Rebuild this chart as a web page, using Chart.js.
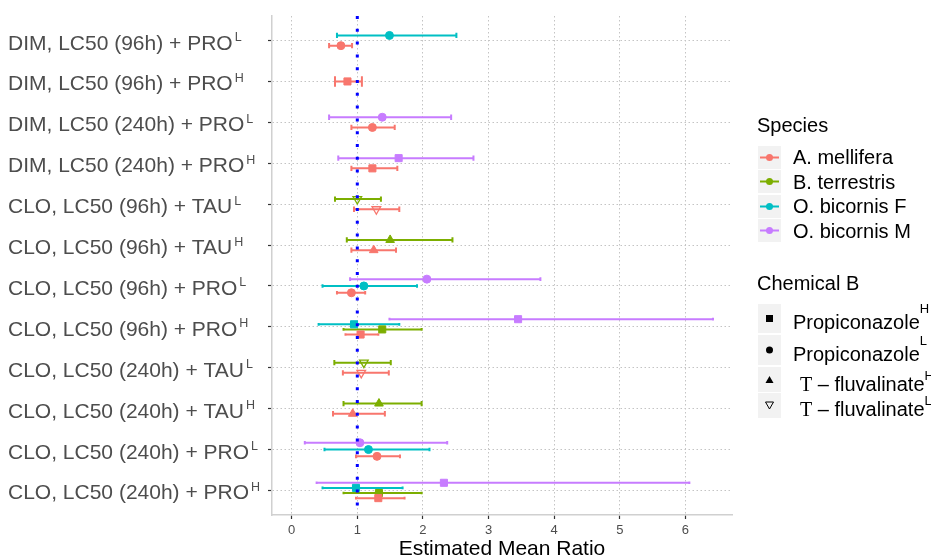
<!DOCTYPE html>
<html lang="en">
<head>
<meta charset="UTF-8">
<title>Estimated Mean Ratio</title>
<script src="https://cdn.jsdelivr.net/npm/chart.js"></script>
<style>
  body { margin: 0; background: #fff; font-family: "Liberation Sans", Arial, sans-serif; }
  #wrap { position: relative; width: 931px; height: 560px; overflow: hidden; }
  #legend div { position: absolute; white-space: nowrap; color: #000; font-size: 20px; line-height: 20px; }
  #legend svg { position: absolute; }
  .serif { font-family: "Liberation Serif", "Times New Roman", serif; }
  .sup { font-size: 13px; position: relative; }
</style>
</head>
<body>
<div id="wrap">
  <canvas id="chart" width="931" height="560"></canvas>
  <div id="legend"></div>
</div>
<script>
// rows, top to bottom
const categoryLabels = [
  'DIM, LC50 (96h) + PRO', 'DIM, LC50 (96h) + PRO',
  'DIM, LC50 (240h) + PRO', 'DIM, LC50 (240h) + PRO',
  'CLO, LC50 (96h) + TAU', 'CLO, LC50 (96h) + TAU',
  'CLO, LC50 (96h) + PRO', 'CLO, LC50 (96h) + PRO',
  'CLO, LC50 (240h) + TAU', 'CLO, LC50 (240h) + TAU',
  'CLO, LC50 (240h) + PRO', 'CLO, LC50 (240h) + PRO'
];
const categorySup = ['L', 'H', 'L', 'H', 'L', 'H', 'L', 'H', 'L', 'H', 'L', 'H'];
const rowChemical = ['PRO_L', 'PRO_H', 'PRO_L', 'PRO_H', 'TAU_L', 'TAU_H',
                     'PRO_L', 'PRO_H', 'TAU_L', 'TAU_H', 'PRO_L', 'PRO_H'];

const speciesNames = ['A. mellifera', 'B. terrestris', 'O. bicornis F', 'O. bicornis M'];
const chemicalKeys = ['PRO_H', 'PRO_L', 'TAU_H', 'TAU_L'];
const chemicalLabels = ['Propiconazole', 'Propiconazole', 'T \u2013 fluvalinate', 'T \u2013 fluvalinate'];
const chemicalSup = ['H', 'L', 'H', 'L'];
const xTicks = [0, 1, 2, 3, 4, 5, 6];
const refRatio = 1;

// estimate / lower / upper per row (null = not tested)
const melliferaEst  = [0.75, 0.85, 1.23, 1.23, 1.29, 1.25, 0.91, 1.05, 1.06, 0.93, 1.30, 1.32];
const melliferaLow  = [0.57, 0.66, 0.91, 0.91, 0.95, 0.91, 0.69, 0.82, 0.78, 0.63, 0.98, 0.98];
const melliferaHigh = [0.92, 1.07, 1.57, 1.61, 1.64, 1.59, 1.12, 1.32, 1.48, 1.42, 1.65, 1.72];

const terrestrisEst  = [null, null, null, null, 1.00, 1.50, null, 1.38, 1.10, 1.33, null, 1.33];
const terrestrisLow  = [null, null, null, null, 0.66, 0.84, null, 0.79, 0.65, 0.79, null, 0.79];
const terrestrisHigh = [null, null, null, null, 1.36, 2.45, null, 1.98, 1.51, 1.98, null, 1.98];

const bicornisFEst  = [1.49, null, null, null, null, null, 1.10, 0.95, null, null, 1.17, 0.98];
const bicornisFLow  = [0.69, null, null, null, null, null, 0.47, 0.41, null, null, 0.50, 0.47];
const bicornisFHigh = [2.51, null, null, null, null, null, 1.91, 1.64, null, null, 2.10, 1.69];

const bicornisMEst  = [null, null, 1.38, 1.63, null, null, 2.06, 3.45, null, null, 1.04, 2.32];
const bicornisMLow  = [null, null, 0.57, 0.71, null, null, 0.89, 1.49, null, null, 0.20, 0.38];
const bicornisMHigh = [null, null, 2.43, 2.77, null, null, 3.79, 6.42, null, null, 2.37, 6.06];

const speciesSeries = [
  [melliferaEst, melliferaLow, melliferaHigh],
  [terrestrisEst, terrestrisLow, terrestrisHigh],
  [bicornisFEst, bicornisFLow, bicornisFHigh],
  [bicornisMEst, bicornisMLow, bicornisMHigh]
];

const speciesColors = ['#F8766D', '#7CAE00', '#00BFC4', '#C77CFF'];
const chemicalStyle = {
  PRO_H: { shape: 'rect', radius: 5, rotation: 0, open: false },
  PRO_L: { shape: 'circle', radius: 4, rotation: 0, open: false },
  TAU_H: { shape: 'triangle', radius: 5, rotation: 0, open: false },
  TAU_L: { shape: 'triangle', radius: 5, rotation: 180, open: true }
};

const dodgeWidth = 0.5;
const errWidth = 0.26;
const yMin = -0.6, yMax = categoryLabels.length - 0.4;

// dodge species inside each row: O. bicornis M on top, A. mellifera at the bottom
function buildPoints(s) {
  const [est, low, high] = speciesSeries[s];
  const pts = [];
  est.forEach((v, i) => {
    if (v === null) return;
    const present = speciesSeries.map((ser, k) => ser[0][i] !== null ? k : -1).filter(k => k >= 0).reverse();
    const n = present.length;
    const j = present.indexOf(s);
    pts.push({ x: v, y: i + (j - (n - 1) / 2) * dodgeWidth / n, lo: low[i], hi: high[i], n: n, row: i });
  });
  return pts;
}

const styleOf = ctx => chemicalStyle[ctx.raw ? rowChemical[ctx.raw.row] : 'PRO_L'];

const datasets = speciesNames.map((name, s) => ({
  label: name,
  data: buildPoints(s),
  showLine: false,
  order: 1,
  pointStyle: ctx => styleOf(ctx).shape,
  pointRadius: ctx => styleOf(ctx).radius,
  pointRotation: ctx => styleOf(ctx).rotation,
  pointBorderWidth: ctx => styleOf(ctx).open ? 1.3 : 1,
  pointBorderColor: speciesColors[s],
  pointBackgroundColor: ctx => styleOf(ctx).open ? 'rgba(255,255,255,0)' : speciesColors[s],
  errColor: speciesColors[s]
}));

datasets.push({
  type: 'line',
  label: 'ref',
  data: [{ x: refRatio, y: yMin }, { x: refRatio, y: yMax }],
  borderColor: '#0000FF',
  borderWidth: 3,
  borderDash: [3, 9.8],
  borderCapStyle: 'butt',
  pointRadius: 0,
  clip: 4,
  order: 0
});

const errorBars = {
  id: 'errorBars',
  beforeDatasetsDraw(chart) {
    const { ctx, scales: { x, y } } = chart;
    ctx.save();
    ctx.lineWidth = 2;
    chart.data.datasets.forEach(ds => {
      if (!ds.errColor) return;
      ctx.strokeStyle = ds.errColor;
      ds.data.forEach(p => {
        const py = y.getPixelForValue(p.y);
        const x0 = x.getPixelForValue(p.lo);
        const x1 = x.getPixelForValue(p.hi);
        const h = Math.abs(y.getPixelForValue(errWidth / p.n) - y.getPixelForValue(0)) / 2;
        ctx.beginPath();
        ctx.moveTo(x0, py); ctx.lineTo(x1, py);
        ctx.moveTo(x0, py - h); ctx.lineTo(x0, py + h);
        ctx.moveTo(x1, py - h); ctx.lineTo(x1, py + h);
        ctx.stroke();
      });
    });
    ctx.restore();
  }
};

const rowLabels = {
  id: 'rowLabels',
  afterDraw(chart) {
    const { ctx, scales: { y } } = chart;
    ctx.save();
    ctx.fillStyle = '#4D4D4D';
    ctx.textBaseline = 'alphabetic';
    ctx.textAlign = 'left';
    categoryLabels.forEach((t, i) => {
      const py = y.getPixelForValue(i);
      ctx.font = '21px "Liberation Sans", Arial, sans-serif';
      ctx.fillText(t, 8, py + 9);
      const w = ctx.measureText(t).width;
      ctx.font = '12.5px "Liberation Sans", Arial, sans-serif';
      ctx.fillText(categorySup[i], 8 + w + 2, py + 0.5);
    });
    ctx.restore();
  }
};

const gridStyle = {
  color: '#C4C4C4',
  lineWidth: 1,
  tickLength: 4,
  tickColor: '#333333',
  tickWidth: 1.2,
  tickBorderDash: []
};
const borderStyle = { display: true, color: '#D0D0D0', width: 1.5, dash: [1.5, 2.5] };

new Chart(document.getElementById('chart'), {
  type: 'scatter',
  data: { datasets: datasets },
  options: {
    responsive: false,
    animation: false,
    layout: { padding: { top: 16, right: 199, bottom: 0, left: 0 } },
    plugins: { legend: { display: false }, tooltip: { enabled: false } },
    scales: {
      x: {
        type: 'linear',
        min: -0.3,
        max: 6.71,
        afterBuildTicks: s => { s.ticks = xTicks.map(v => ({ value: v })); },
        afterFit: s => { s.height = 45; },
        grid: gridStyle,
        border: borderStyle,
        ticks: { color: '#4D4D4D', font: { size: 13, family: '"Liberation Sans", Arial, sans-serif' }, padding: 4 },
        title: {
          display: true,
          text: 'Estimated Mean Ratio',
          color: '#000',
          font: { size: 21, family: '"Liberation Sans", Arial, sans-serif', lineHeight: 1 },
          padding: 0
        }
      },
      y: {
        type: 'linear',
        reverse: true,
        min: yMin,
        max: yMax,
        afterBuildTicks: s => { s.ticks = categoryLabels.map((_, i) => ({ value: i })); },
        afterFit: s => { s.width = 272; },
        grid: gridStyle,
        border: borderStyle,
        ticks: { display: false }
      }
    }
  },
  plugins: [errorBars, rowLabels]
});

// legend
const legend = document.getElementById('legend');
function addDiv(html, left, top) {
  const d = document.createElement('div');
  d.innerHTML = html;
  d.style.left = left + 'px';
  d.style.top = top + 'px';
  legend.appendChild(d);
  return d;
}
function addSvg(inner, left, top, w, h) {
  const ns = 'http://www.w3.org/2000/svg';
  const svg = document.createElementNS(ns, 'svg');
  svg.setAttribute('width', w); svg.setAttribute('height', h);
  svg.style.left = left + 'px'; svg.style.top = top + 'px';
  svg.innerHTML = '<rect width="' + w + '" height="' + h + '" fill="#F2F2F2"/>' + inner;
  legend.appendChild(svg);
}

addDiv('Species', 757, 115);
speciesNames.forEach((name, i) => {
  const cy = 157 + i * 24.5;
  const c = speciesColors[i];
  addSvg('<line x1="2" y1="11.5" x2="21" y2="11.5" stroke="' + c + '" stroke-width="2"/>' +
         '<circle cx="11.5" cy="11.5" r="3.5" fill="' + c + '"/>', 758, cy - 11.5, 23, 23);
  addDiv(name, 793, cy - 10);
});

addDiv('Chemical B', 757, 273);
const keyTop = [304, 335, 367, 393];
const keyH = [29, 30, 25, 25];
const supRaise = [16, 16, 11.5, 11.5];
chemicalKeys.forEach((k, i) => {
  const h = keyH[i];
  const cx = 11.5, cy = h / 2;
  let shape;
  if (k === 'PRO_H') shape = '<rect x="' + (cx - 3.5) + '" y="' + (cy - 3.5) + '" width="7" height="7" fill="#000"/>';
  else if (k === 'PRO_L') shape = '<circle cx="' + cx + '" cy="' + cy + '" r="3.5" fill="#000"/>';
  else if (k === 'TAU_H') shape = '<polygon points="' + (cx - 4) + ',' + (cy + 3.5) + ' ' + (cx + 4) + ',' + (cy + 3.5) + ' ' + cx + ',' + (cy - 3.5) + '" fill="#000"/>';
  else shape = '<polygon points="' + (cx - 4) + ',' + (cy - 3.5) + ' ' + (cx + 4) + ',' + (cy - 3.5) + ' ' + cx + ',' + (cy + 3.5) + '" fill="none" stroke="#000" stroke-width="1"/>';
  addSvg(shape, 758, keyTop[i], 23, h);

  let text = chemicalLabels[i];
  let left = 793;
  if (text.startsWith('T ')) {
    text = '<span class="serif">T</span>' + text.slice(1);
    left = 800;
  }
  const textCenter = [321.5, 353.5, 384, 409][i];
  addDiv(text + '<span class="sup" style="top:-' + supRaise[i] + 'px">' + chemicalSup[i] + '</span>', left, textCenter - 10);
});
</script>
</body>
</html>
